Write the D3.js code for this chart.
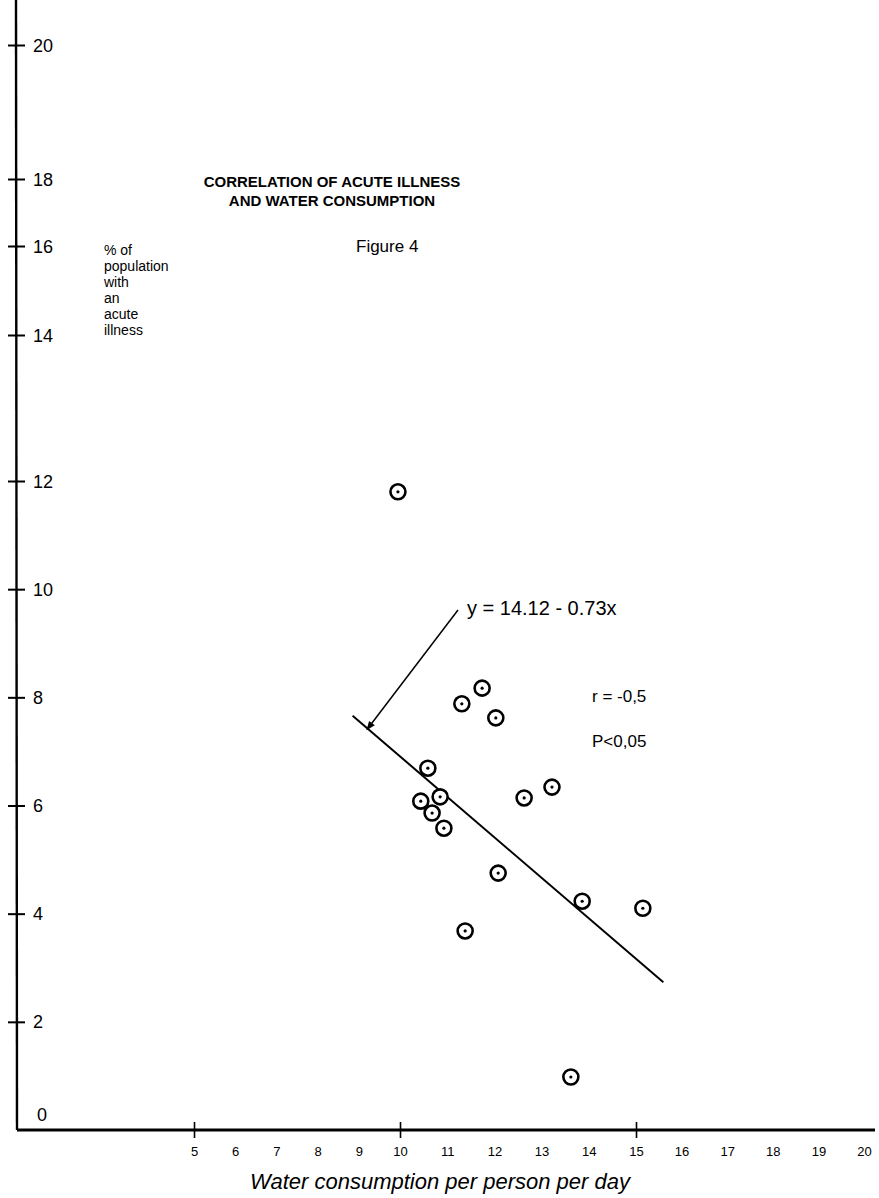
<!DOCTYPE html>
<html>
<head>
<meta charset="utf-8">
<script src="https://cdn.jsdelivr.net/npm/d3@7"></script>
<style>
  body { margin: 0; background: #fff; }
  svg { display: block; }
  text { font-family: "Liberation Sans", Arial, Helvetica, sans-serif; fill: #000; }
</style>
</head>
<body>
<div id="chart"></div>
<script>
// Survey data: water consumption per person per day vs % of population with an acute illness
const waterUse   = [9.95, 11.74, 11.31, 12.03, 10.59, 10.44, 10.85, 10.68, 10.93, 12.63, 13.22, 12.08, 13.86, 15.15, 11.38, 13.62];
const illnessPct = [11.80, 8.17, 7.88, 7.62, 6.69, 6.08, 6.16, 5.86, 5.58, 6.14, 6.34, 4.75, 4.23, 4.10, 3.68, 0.98];

// Axis ticks
const yTicks = [0, 2, 4, 6, 8, 10, 12, 14, 16, 18, 20];
const xTicks = [5, 6, 7, 8, 9, 10, 11, 12, 13, 14, 15, 16, 17, 18, 19, 20];
const xMarkedTicks = [5, 10, 15];

// Regression line y = a + b x, drawn over the span of the data
const fitIntercept = 14.12;
const fitSlope = -0.73;
const fitSpan = [8.85, 15.6];
const fitPointedAt = 9.2;

// Text
const titleLines = ["CORRELATION OF ACUTE ILLNESS", "AND WATER CONSUMPTION"];
const figureLabel = "Figure 4";
const yLabelLines = ["% of", "population", "with", "an", "acute", "illness"];
const xLabel = "Water consumption per person per day";
const fitLabel = "y = 14.12 - 0.73x";
const statLines = ["r =  -0,5", "P<0,05"];

const W = 879, H = 1198;
const ink = "#000";

const svg = d3.select("#chart").append("svg")
  .attr("width", W).attr("height", H)
  .attr("viewBox", `0 0 ${W} ${H}`);

// The hand-ruled axes are not perfectly even, so the scales are piecewise linear
const x = d3.scaleLinear().domain([5, 10, 15, 20]).range([194, 400, 636, 864]);
const y = d3.scaleLinear().domain([0, 12, 14, 16, 18, 20]).range([1130, 481, 335, 246, 179, 45]);

const originX = 17;

// ---- Y axis ----
svg.append("line")
  .attr("x1", originX - 1).attr("y1", 0)
  .attr("x2", originX).attr("y2", y(0))
  .attr("stroke", ink).attr("stroke-width", 2.4);

const yAxis = svg.append("g")
  .attr("transform", `translate(${originX},0)`)
  .call(d3.axisRight(y).tickValues(yTicks).tickSize(0).tickPadding(16)
    .tickFormat(d3.format("d")));
yAxis.select(".domain").remove();
yAxis.selectAll(".tick").filter(d => d !== 0)
  .append("line")
  .attr("x1", -9).attr("x2", 8)
  .attr("stroke", ink).attr("stroke-width", 2);
yAxis.selectAll(".tick text")
  .attr("fill", ink)
  .style("font-size", "18px")
  .attr("x", d => d === 0 ? 20 : 16)
  .attr("dy", d => d === 0 ? "-0.55em" : "0.34em");

// ---- X axis ----
svg.append("line")
  .attr("x1", originX).attr("y1", y(0))
  .attr("x2", 875).attr("y2", y(0))
  .attr("stroke", ink).attr("stroke-width", 3);

const xAxis = svg.append("g")
  .attr("transform", `translate(0,${y(0)})`)
  .call(d3.axisBottom(x).tickValues(xTicks).tickSize(0).tickPadding(17)
    .tickFormat(d3.format("d")));
xAxis.select(".domain").remove();
xAxis.selectAll(".tick text")
  .attr("fill", ink)
  .style("font-size", "13px");
xAxis.selectAll(".tick").filter(d => xMarkedTicks.includes(d))
  .append("line")
  .attr("y1", -8).attr("y2", 8)
  .attr("stroke", ink).attr("stroke-width", 1.6);

svg.append("text")
  .attr("x", 440).attr("y", 1189)
  .attr("text-anchor", "middle")
  .style("font-size", "22px")
  .style("font-style", "italic")
  .text(xLabel);

// ---- Titles ----
svg.append("g").selectAll("text")
  .data(titleLines).join("text")
  .attr("x", 332).attr("y", (d, i) => 187 + i * 19)
  .attr("text-anchor", "middle")
  .style("font-size", "15px")
  .style("font-weight", "bold")
  .text(d => d);

svg.append("text")
  .attr("x", 356).attr("y", 252)
  .style("font-size", "17px")
  .text(figureLabel);

svg.append("g").selectAll("text")
  .data(yLabelLines).join("text")
  .attr("x", 104).attr("y", (d, i) => 255 + i * 16)
  .style("font-size", "14px")
  .text(d => d);

// ---- Regression line ----
const fit = v => fitIntercept + fitSlope * v;
svg.append("line")
  .attr("x1", x(fitSpan[0])).attr("y1", y(fit(fitSpan[0])))
  .attr("x2", x(fitSpan[1])).attr("y2", y(fit(fitSpan[1])))
  .attr("stroke", ink).attr("stroke-width", 2);

// Leader arrow from the equation to the line
svg.append("defs").append("marker")
  .attr("id", "head")
  .attr("viewBox", "0 0 10 10")
  .attr("refX", 9).attr("refY", 5)
  .attr("markerWidth", 10).attr("markerHeight", 9)
  .attr("markerUnits", "userSpaceOnUse")
  .attr("orient", "auto")
  .append("path").attr("d", "M0,1 L10,5 L0,9 Z").attr("fill", ink);

const tipX = x(fitPointedAt), tipY = y(fit(fitPointedAt));
svg.append("line")
  .attr("x1", 458).attr("y1", 610)
  .attr("x2", tipX).attr("y2", tipY)
  .attr("stroke", ink).attr("stroke-width", 1.5)
  .attr("marker-end", "url(#head)");

svg.append("text")
  .attr("x", 467).attr("y", 615)
  .style("font-size", "20px")
  .text(fitLabel);

svg.append("g").selectAll("text")
  .data(statLines).join("text")
  .attr("x", 592).attr("y", (d, i) => 702 + i * 45)
  .style("font-size", "17px")
  .text(d => d);

// ---- Data points: ring with a centre dot ----
const pts = svg.append("g").selectAll("g")
  .data(waterUse.map((w, i) => ({ w, p: illnessPct[i] })))
  .join("g")
  .attr("transform", d => `translate(${x(d.w)},${y(d.p)})`);
pts.append("circle").attr("r", 7.5)
  .attr("fill", "#fff").attr("stroke", ink).attr("stroke-width", 2.6);
pts.append("circle").attr("r", 1.6).attr("fill", ink);
</script>
</body>
</html>
